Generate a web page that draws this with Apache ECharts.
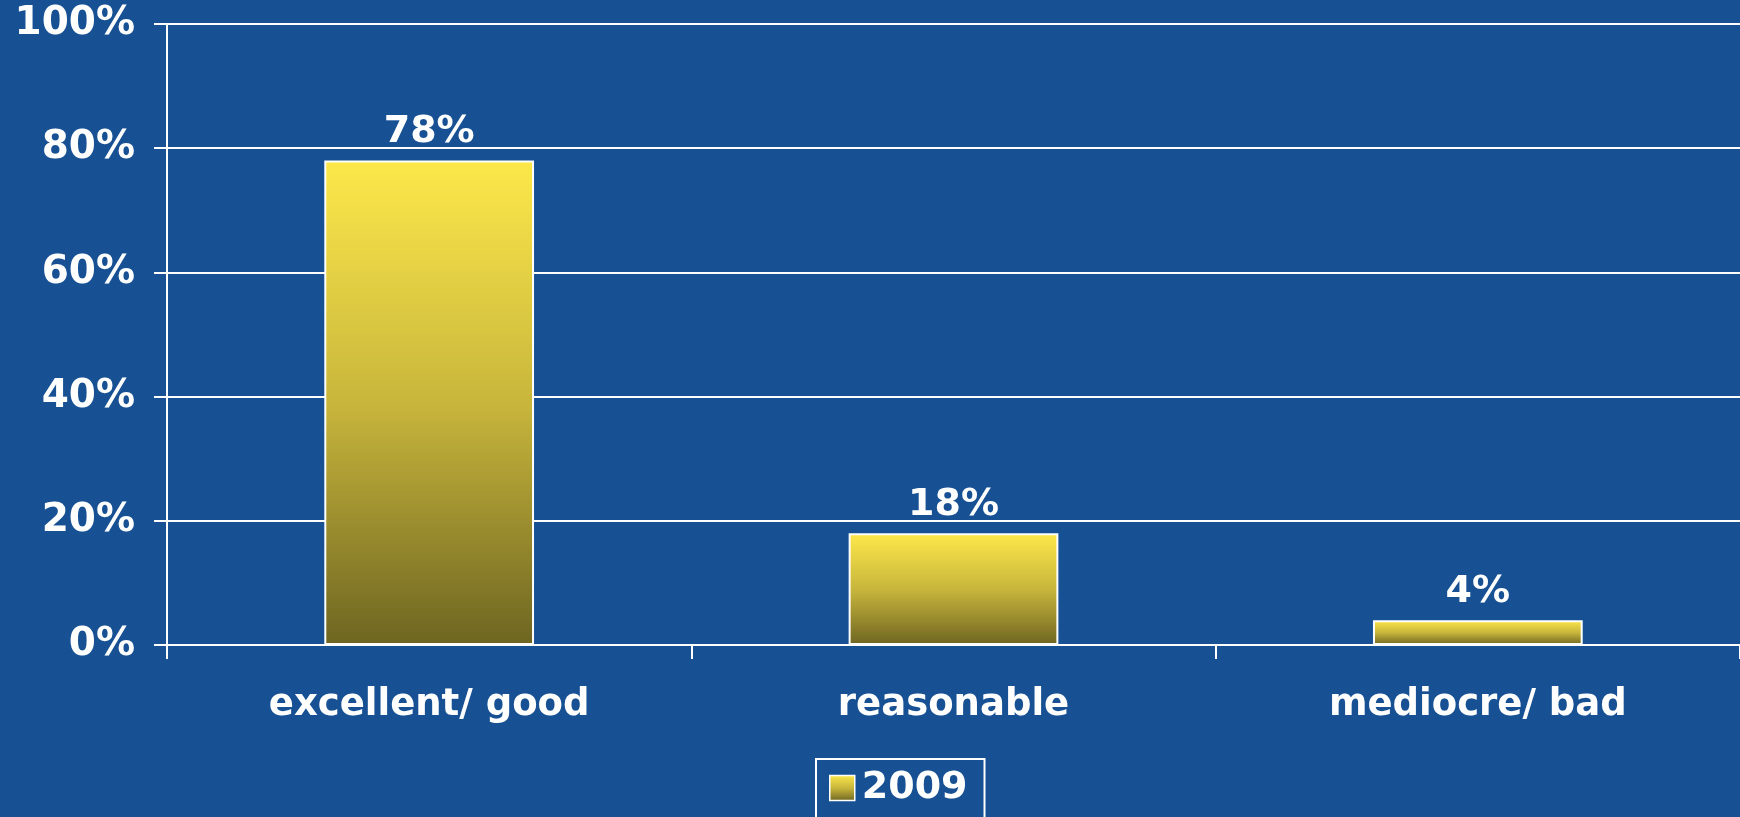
<!DOCTYPE html>
<html>
<head>
<meta charset="utf-8">
<script src="https://cdn.jsdelivr.net/npm/echarts@6/dist/echarts.min.js"></script>
<style>
html,body{margin:0;padding:0;background:#175193;}
#c{width:1740px;height:817px;}
</style>
</head>
<body>
<div id="c"></div>
<script>
const categories = ["excellent/ good", "reasonable", "mediocre/ bad"];
const seriesName = "2009";
const values = [78, 18, 4];
const yTicks = [0, 20, 40, 60, 80, 100];

const FONT = "'DejaVu Sans', Verdana, sans-serif";
const grad = () => new echarts.graphic.LinearGradient(0, 0, 0, 1, [
  {offset: 0, color: '#FDE84A'},
  {offset: 0.5, color: '#C8B63C'},
  {offset: 1, color: '#6E6521'}
]);

const chart = echarts.init(document.getElementById('c'), null, {renderer: 'canvas'});
chart.setOption({
  backgroundColor: '#175193',
  animation: false,
  grid: {left: 167, right: -3, top: 24, bottom: 172, containLabel: false},
  legend: {
    data: [{name: seriesName, icon: 'rect'}],
    top: 759,
    left: 816,
    backgroundColor: 'transparent',
    borderColor: '#ffffff',
    borderWidth: 2,
    borderRadius: 0,
    padding: [10, 17, 14, 13],
    itemWidth: 25,
    itemHeight: 25,
    itemGap: 10,
    textStyle: {color: '#ffffff', fontFamily: FONT, fontWeight: 'bold', fontSize: 38, padding: [0, 0, 0, 2]},
    itemStyle: {borderColor: '#ffffff', borderWidth: 1.5}
  },
  xAxis: {
    type: 'category',
    data: categories,
    axisLine: {lineStyle: {color: '#ffffff', width: 2}},
    axisTick: {show: true, length: 14, lineStyle: {color: '#ffffff', width: 2}},
    axisLabel: {color: '#ffffff', fontFamily: FONT, fontWeight: 'bold', fontSize: 37, margin: 42},
    splitLine: {show: false}
  },
  yAxis: {
    type: 'value',
    min: 0, max: 100, interval: 20,
    axisLine: {show: true, lineStyle: {color: '#ffffff', width: 2}},
    axisTick: {show: true, length: 13, lineStyle: {color: '#ffffff', width: 2}},
    axisLabel: {color: '#ffffff', fontFamily: FONT, fontWeight: 'bold', fontSize: 39, margin: 32,
      formatter: v => yTicks.includes(v) ? v + '%' : ''},
    splitLine: {show: true, lineStyle: {color: '#ffffff', width: 2}}
  },
  series: [{
    name: seriesName,
    type: 'bar',
    data: values,
    barWidth: '40%',
    itemStyle: {color: grad(), borderColor: '#ffffff', borderWidth: 2},
    label: {
      show: true, position: 'top', distance: 9,
      color: '#ffffff', fontFamily: FONT, fontWeight: 'bold', fontSize: 38,
      formatter: p => p.value + '%'
    }
  }]
});
</script>
</body>
</html>
